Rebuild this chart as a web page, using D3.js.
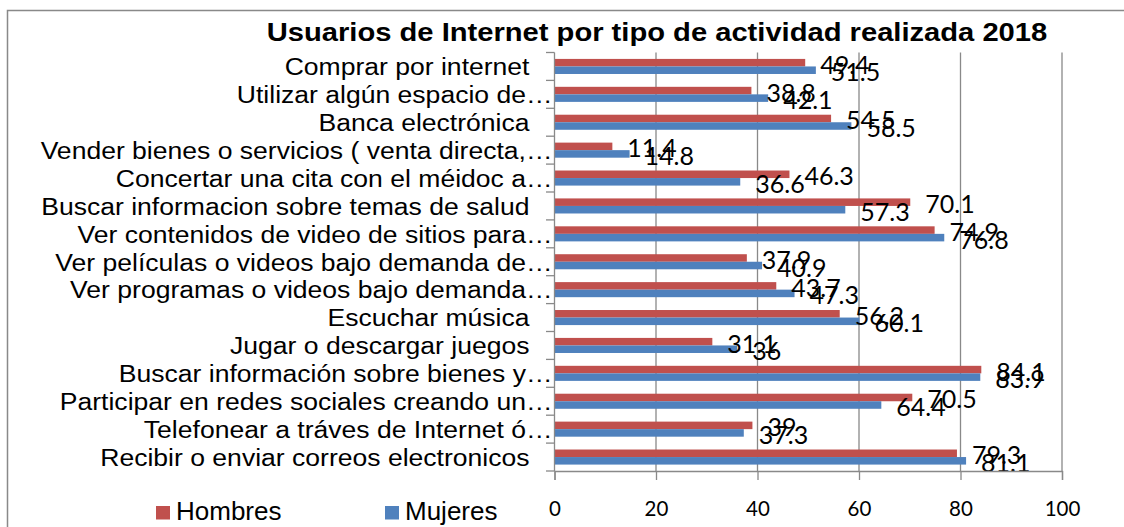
<!DOCTYPE html>
<html>
<head>
<meta charset="utf-8">
<script src="https://cdn.jsdelivr.net/npm/d3@7"></script>
<style>
  html, body { margin: 0; padding: 0; background: #fff; }
  svg { display: block; }
</style>
</head>
<body>
<svg id="chart" width="1124" height="527"></svg>
<script>
const title = "Usuarios de Internet por tipo de actividad realizada 2018";
const categories = [
  "Comprar por internet",
  "Utilizar algún espacio de…",
  "Banca electrónica",
  "Vender bienes o servicios ( venta directa,…",
  "Concertar una cita con el méidoc a…",
  "Buscar informacion sobre temas de salud",
  "Ver contenidos de video de sitios para…",
  "Ver películas o videos bajo demanda de…",
  "Ver programas o videos bajo demanda…",
  "Escuchar música",
  "Jugar o descargar juegos",
  "Buscar información sobre bienes y…",
  "Participar en redes sociales creando un…",
  "Telefonear a tráves de Internet ó…",
  "Recibir o enviar correos electronicos"
];
const seriesNames = ["Hombres", "Mujeres"];
const hombres = [49.4, 38.8, 54.5, 11.4, 46.3, 70.1, 74.9, 37.9, 43.7, 56.2, 31.1, 84.1, 70.5, 39, 79.3];
const mujeres = [51.5, 42.1, 58.5, 14.8, 36.6, 57.3, 76.8, 40.9, 47.3, 60.1, 36, 83.9, 64.4, 37.3, 81.1];
const xTicks = [0, 20, 40, 60, 80, 100];
const colors = { Hombres: "#C0504D", Mujeres: "#4F81BD" };

const svg = d3.select("#chart");
const gray = "#898989";
const labelFont = "'Liberation Sans', Arial, sans-serif";
const numFont = "Lato, 'Open Sans', sans-serif";

// frame
svg.append("rect").attr("x", 7.5).attr("y", 10.5).attr("width", 1130).attr("height", 540)
  .attr("fill", "none").attr("stroke", gray).attr("stroke-width", 1.5);

// title
svg.append("text").attr("transform", "translate(657,41) scale(1.1,1)").attr("text-anchor", "middle")
  .attr("font-family", labelFont).attr("font-weight", "bold").attr("font-size", 26.5)
  .attr("fill", "#000").text(title);

const x = d3.scaleLinear().domain([0, 100]).range([554.5, 1062]);
const y = d3.scaleBand().domain(categories).range([52.5, 471]).paddingInner(0.46).paddingOuter(0.23);
const ys = d3.scaleBand().domain(seriesNames).range([0, y.bandwidth()]);

// gridlines
svg.append("g").selectAll("line").data(xTicks.filter(d => d > 0)).join("line")
  .attr("x1", d => x(d)).attr("x2", d => x(d)).attr("y1", 52.5).attr("y2", 471)
  .attr("stroke", gray).attr("stroke-width", 1.3);

// bars
const data = categories.map((c, i) => ({ cat: c, Hombres: hombres[i], Mujeres: mujeres[i] }));
const groups = svg.append("g").selectAll("g").data(data).join("g")
  .attr("transform", d => `translate(0,${y(d.cat)})`);
groups.selectAll("rect").data(d => seriesNames.map(s => ({ s, v: d[s] }))).join("rect")
  .attr("x", x(0)).attr("y", d => ys(d.s)).attr("width", d => x(d.v) - x(0))
  .attr("height", ys.bandwidth()).attr("fill", d => colors[d.s]);

// x axis
const xAxis = d3.axisBottom(x).tickValues(xTicks).tickSize(9).tickPadding(21).tickFormat(d3.format("d"));
const gx = svg.append("g").attr("transform", "translate(0,471)").call(xAxis);
gx.select(".domain").attr("stroke", gray).attr("stroke-width", 1.3);
gx.selectAll(".tick line").attr("stroke", gray).attr("stroke-width", 1.3);
gx.selectAll(".tick text").attr("font-family", numFont).attr("font-size", 20.5).attr("fill", "#000");

// y axis line and boundary ticks
svg.append("line").attr("x1", x(0)).attr("x2", x(0)).attr("y1", 52.5).attr("y2", 471)
  .attr("stroke", gray).attr("stroke-width", 1.3);
const step = y.step();
const off = (step - y.bandwidth()) / 2;
const bounds = categories.map(c => y(c) - off).concat([y(categories[categories.length - 1]) - off + step]);
svg.append("g").selectAll("line").data(bounds).join("line")
  .attr("x1", x(0) - 8.5).attr("x2", x(0)).attr("y1", d => d).attr("y2", d => d)
  .attr("stroke", gray).attr("stroke-width", 1.3);

// category labels
svg.append("g").selectAll("text").data(categories).join("text")
  .attr("transform", d => `translate(${d.endsWith("…") ? x(0) - 2 : x(0) - 25},${y(d) + y.bandwidth() / 2}) scale(1.084,1)`)
  .attr("dy", "0.36em").attr("text-anchor", "end")
  .attr("font-family", labelFont).attr("font-size", 24.5).attr("fill", "#000")
  .text(d => d);

// data labels
groups.selectAll("text").data(d => seriesNames.map(s => ({ s, v: d[s] }))).join("text")
  .attr("x", d => x(d.v) + 15)
  .attr("y", d => ys(d.s) + ys.bandwidth() / 2 + 2)
  .attr("dy", "0.36em")
  .attr("font-family", numFont).attr("font-size", 25).attr("fill", "#000")
  .text(d => d.v);

// legend
const legend = svg.append("g");
const legX = { Hombres: 156, Mujeres: 385 };
seriesNames.forEach(s => {
  legend.append("rect").attr("x", legX[s]).attr("y", 506).attr("width", 14).attr("height", 13.5).attr("fill", colors[s]);
  legend.append("text").attr("x", legX[s] + 20).attr("y", 520)
    .attr("font-family", labelFont).attr("font-size", 26).attr("fill", "#000").text(s);
});
</script>
</body>
</html>
